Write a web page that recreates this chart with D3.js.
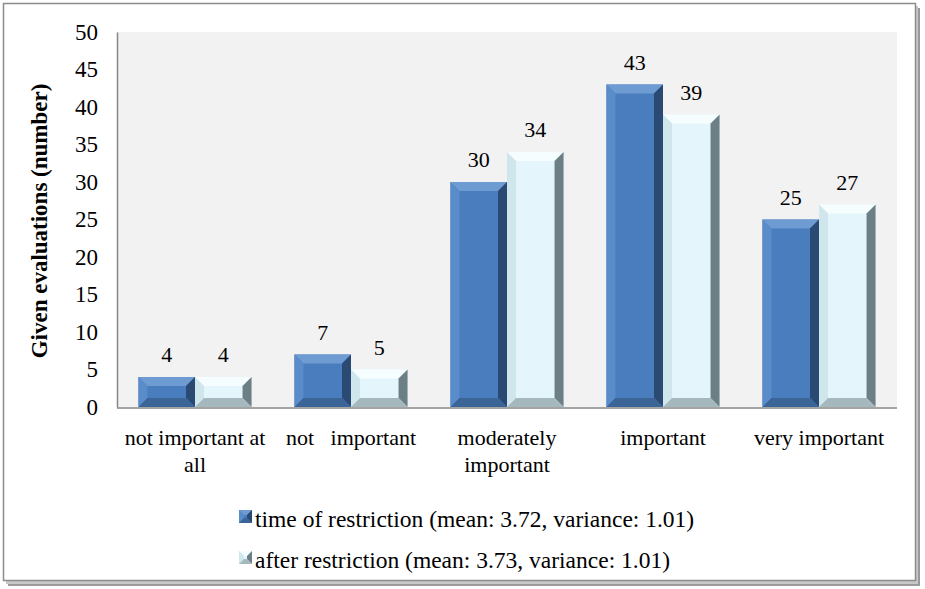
<!DOCTYPE html>
<html>
<head>
<meta charset="utf-8">
<script src="https://cdn.jsdelivr.net/npm/d3@7"></script>
<style>
  body { margin: 0; background: #fff; }
</style>
</head>
<body>
<div id="main"></div>
<script>
var categories = [['not important at', 'all'], ['not   important'], ['moderately', 'important'], ['important'], ['very important']];
var timeValues = [4, 7, 30, 43, 25];
var afterValues = [4, 5, 34, 39, 27];
var seriesNames = ['time of restriction (mean: 3.72, variance: 1.01)', 'after restriction (mean: 3.73, variance: 1.01)'];
var yTicks = [0, 5, 10, 15, 20, 25, 30, 35, 40, 45, 50];

var width = 925, height = 589;
var plot = { left: 117, right: 897, top: 32, bottom: 407 };
var serif = '"Liberation Serif"';

// face, top, left, right, bottom shades
var shades = [
  { face: '#4a7dbd', top: '#6f9bd3', left: '#5b8cca', right: '#2a4a73', bottom: '#3b6497' },
  { face: '#e4f6fc', top: '#f6fdff', left: '#cfe6ec', right: '#6b7f85', bottom: '#a5b8bd' }
];

var svg = d3.select('#main').append('svg').attr('width', width).attr('height', height);

// outer frame with shadow
svg.append('rect').attr('x', 8).attr('y', 8).attr('width', 912).attr('height', 578).attr('fill', '#9a9a9a');
svg.append('rect').attr('x', 6).attr('y', 6).attr('width', 912).attr('height', 578).attr('fill', '#c8c8c8');
svg.append('rect').attr('x', 3.5).attr('y', 3.5).attr('width', 912).attr('height', 577).attr('fill', '#fff').attr('stroke', '#8c8c8c').attr('stroke-width', 1.5);

svg.append('rect').attr('x', plot.left).attr('y', plot.top)
  .attr('width', plot.right - plot.left).attr('height', plot.bottom - plot.top).attr('fill', '#f2f2f2');

var x = d3.scaleBand().domain(d3.range(categories.length)).range([plot.left, plot.right]).paddingInner(0.275).paddingOuter(0.1375);
var xs = d3.scaleBand().domain([0, 1]).range([0, x.bandwidth()]);
var y = d3.scaleLinear().domain([0, 50]).range([plot.bottom, plot.top]);

// y axis
var yAxis = svg.append('g').attr('transform', 'translate(' + plot.left + ',0)')
  .call(d3.axisLeft(y).tickValues(yTicks).tickSize(0).tickPadding(19));
yAxis.selectAll('text').style('font-family', serif).style('font-size', '23px').attr('fill', '#000');
yAxis.select('.domain').attr('stroke', '#868686').attr('stroke-width', 1.5);

// x axis line
svg.append('line').attr('x1', plot.left).attr('x2', plot.right).attr('y1', plot.bottom + 1).attr('y2', plot.bottom + 1)
  .attr('stroke', '#868686').attr('stroke-width', 1.5);

svg.append('text').attr('transform', 'translate(47,' + 221 + ') rotate(-90)')
  .attr('text-anchor', 'middle').style('font-family', serif).style('font-size', '23px').attr('font-weight', 'bold')
  .text('Given evaluations (number)');

function bevelBar(g, x0, x1, y0, y1, sh, b) {
  var bx = Math.min(b, (x1 - x0) / 2), by = Math.min(b, (y1 - y0) / 2);
  g.append('rect').attr('x', x0).attr('y', y0).attr('width', x1 - x0).attr('height', y1 - y0).attr('fill', sh.face);
  var poly = function (pts, c) {
    g.append('polygon').attr('points', pts.map(function (p) { return p.join(','); }).join(' ')).attr('fill', c);
  };
  poly([[x0, y0], [x1, y0], [x1 - bx, y0 + by], [x0 + bx, y0 + by]], sh.top);
  poly([[x0, y0], [x0 + bx, y0 + by], [x0 + bx, y1 - by], [x0, y1]], sh.left);
  poly([[x1, y0], [x1, y1], [x1 - bx, y1 - by], [x1 - bx, y0 + by]], sh.right);
  poly([[x0, y1], [x0 + bx, y1 - by], [x1 - bx, y1 - by], [x1, y1]], sh.bottom);
}

var series = [timeValues, afterValues];
series.forEach(function (vals, s) {
  vals.forEach(function (v, i) {
    var x0 = x(i) + xs(s), x1 = x0 + xs.bandwidth();
    var g = svg.append('g');
    bevelBar(g, x0, x1, y(v), y(0), shades[s], 9);
    svg.append('text').attr('x', (x0 + x1) / 2).attr('y', y(v) - 15)
      .attr('text-anchor', 'middle').style('font-family', serif).style('font-size', '22px').text(v);
  });
});

// category labels
categories.forEach(function (lines, i) {
  var t = svg.append('text').attr('x', x(i) + x.bandwidth() / 2).attr('y', 445)
    .attr('text-anchor', 'middle').style('font-family', serif).style('font-size', '22px').style('white-space', 'pre');
  lines.forEach(function (l, k) {
    t.append('tspan').attr('x', x(i) + x.bandwidth() / 2).attr('dy', k === 0 ? 0 : 27).text(l);
  });
});

// legend
seriesNames.forEach(function (name, s) {
  var ly = 519 + s * 41;
  bevelBar(svg.append('g'), 239, 252, ly - 9, ly + 4, shades[s], 5);
  svg.append('text').attr('x', 255).attr('y', ly).attr('dy', '0.32em')
    .style('font-family', serif).style('font-size', '23.5px').text(name);
});
</script>
</body>
</html>
